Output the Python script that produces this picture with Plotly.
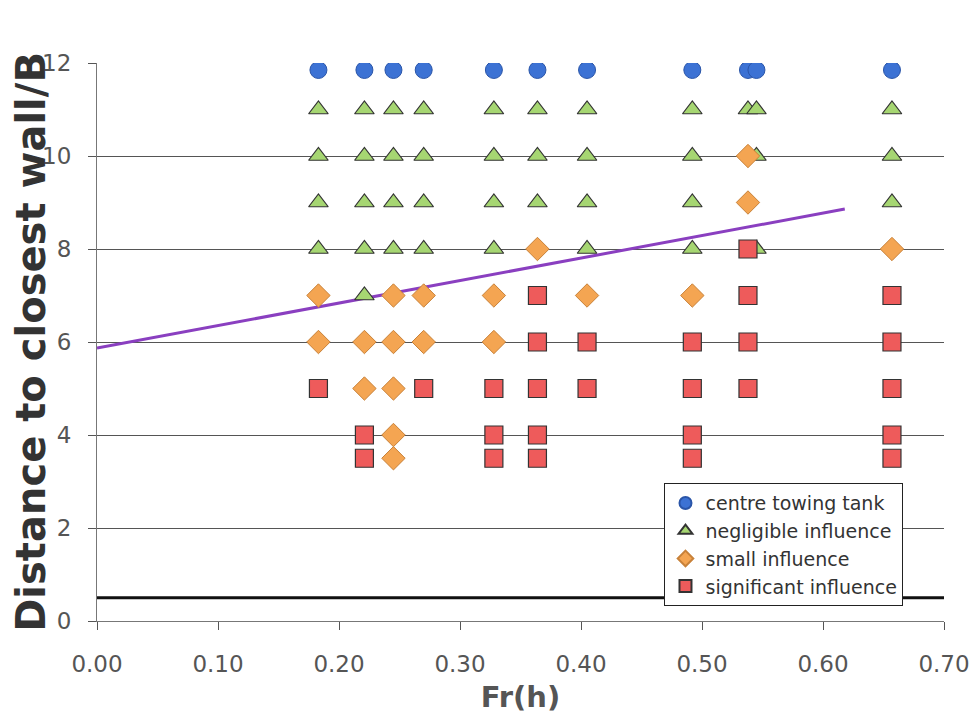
import plotly.graph_objects as go

# Data
centre_x = [0.183, 0.221, 0.245, 0.270, 0.328, 0.364, 0.405, 0.492, 0.538, 0.545, 0.657]
centre_y = [11.85] * 11

negl_x = [0.183, 0.183, 0.183, 0.183,
          0.221, 0.221, 0.221, 0.221, 0.221,
          0.245, 0.245, 0.245, 0.245,
          0.270, 0.270, 0.270, 0.270,
          0.328, 0.328, 0.328, 0.328,
          0.364, 0.364, 0.364,
          0.405, 0.405, 0.405, 0.405,
          0.492, 0.492, 0.492, 0.492,
          0.538,
          0.545, 0.545, 0.545,
          0.657, 0.657, 0.657]
negl_y = [11, 10, 9, 8,
          11, 10, 9, 8, 7,
          11, 10, 9, 8,
          11, 10, 9, 8,
          11, 10, 9, 8,
          11, 10, 9,
          11, 10, 9, 8,
          11, 10, 9, 8,
          11,
          11, 10, 8,
          11, 10, 9]

small_x = [0.183, 0.183,
           0.221, 0.221,
           0.245, 0.245, 0.245, 0.245, 0.245,
           0.270, 0.270,
           0.328, 0.328,
           0.364,
           0.405,
           0.492,
           0.538, 0.538,
           0.657]
small_y = [7, 6,
           6, 5,
           7, 6, 5, 4, 3.5,
           7, 6,
           7, 6,
           8,
           7,
           7,
           10, 9,
           8]

sig_x = [0.183,
         0.221, 0.221,
         0.270,
         0.328, 0.328, 0.328,
         0.364, 0.364, 0.364, 0.364, 0.364,
         0.405, 0.405,
         0.492, 0.492, 0.492, 0.492,
         0.538, 0.538, 0.538, 0.538,
         0.657, 0.657, 0.657, 0.657, 0.657]
sig_y = [5,
         4, 3.5,
         5,
         5, 4, 3.5,
         7, 6, 5, 4, 3.5,
         6, 5,
         6, 5, 4, 3.5,
         8, 7, 6, 5,
         7, 6, 5, 4, 3.5]

trend_x = [0.0, 0.618]
trend_y = [5.87, 8.86]

wall_x = [0.0, 0.70]
wall_y = [0.5, 0.5]

x_ticks = [0.0, 0.1, 0.2, 0.3, 0.4, 0.5, 0.6, 0.7]
x_labels = ["0.00", "0.10", "0.20", "0.30", "0.40", "0.50", "0.60", "0.70"]
y_ticks = [0, 2, 4, 6, 8, 10, 12]

fig = go.Figure()

fig.add_trace(go.Scatter(x=wall_x, y=wall_y, mode="lines",
                         line=dict(color="#111111", width=3),
                         showlegend=False, hoverinfo="skip"))
fig.add_trace(go.Scatter(x=trend_x, y=trend_y, mode="lines",
                         line=dict(color="#8a3fc0", width=3),
                         showlegend=False, hoverinfo="skip"))

fig.add_trace(go.Scatter(x=centre_x, y=centre_y, mode="markers", name="centre towing tank",
                         marker=dict(symbol="circle", size=17, color="#3c72d4",
                                     line=dict(color="#2a55a8", width=1))))
fig.add_trace(go.Scatter(x=negl_x, y=negl_y, mode="markers", name="negligible influence",
                         marker=dict(symbol="triangle-up", size=17, color="#a6d672",
                                     line=dict(color="#333333", width=1.2))))
fig.add_trace(go.Scatter(x=small_x, y=small_y, mode="markers", name="small influence",
                         marker=dict(symbol="diamond", size=18, color="#f4a552",
                                     line=dict(color="#c8823a", width=1))))
fig.add_trace(go.Scatter(x=sig_x, y=sig_y, mode="markers", name="significant influence",
                         marker=dict(symbol="square", size=18, color="#ee5b5b",
                                     line=dict(color="#333333", width=1.2))))

fig.update_layout(
    width=978, height=716,
    margin=dict(l=89, r=42, t=55, b=103, autoexpand=False),
    paper_bgcolor="white", plot_bgcolor="white",
    font=dict(family="DejaVu Sans", color="#555555"),
    showlegend=True,
    legend=dict(x=0.67, y=0.247, xanchor="left", yanchor="top",
                bgcolor="white", bordercolor="#222222", borderwidth=1,
                font=dict(size=19, color="#333333"),
                itemsizing="constant", tracegroupgap=0,
                itemwidth=30),
    xaxis=dict(range=[0, 0.70], tickvals=x_ticks, ticktext=x_labels,
               automargin=False,
               showgrid=False, zeroline=False,
               showline=True, linecolor="#777777", linewidth=1,
               ticks="outside", ticklen=8, tickcolor="#555555",
               ticklabelstandoff=14,
               tickfont=dict(size=23, color="#555555"),
               title=dict(text="<b>Fr(h)</b>", font=dict(size=29, color="#555555"), standoff=11)),
    yaxis=dict(range=[0, 12], tickvals=y_ticks,
               automargin=False,
               showgrid=True, gridcolor="#555555", gridwidth=1,
               zeroline=False,
               showline=True, linecolor="#777777", linewidth=1,
               ticks="outside", ticklen=8, tickcolor="#555555",
               ticklabelstandoff=12,
               tickfont=dict(size=23, color="#555555"),
               title=dict(text="<b>Distance to closest wall/B</b>",
                          font=dict(size=40, color="#333333"), standoff=6)),
)

fig.write_html("out.html")
